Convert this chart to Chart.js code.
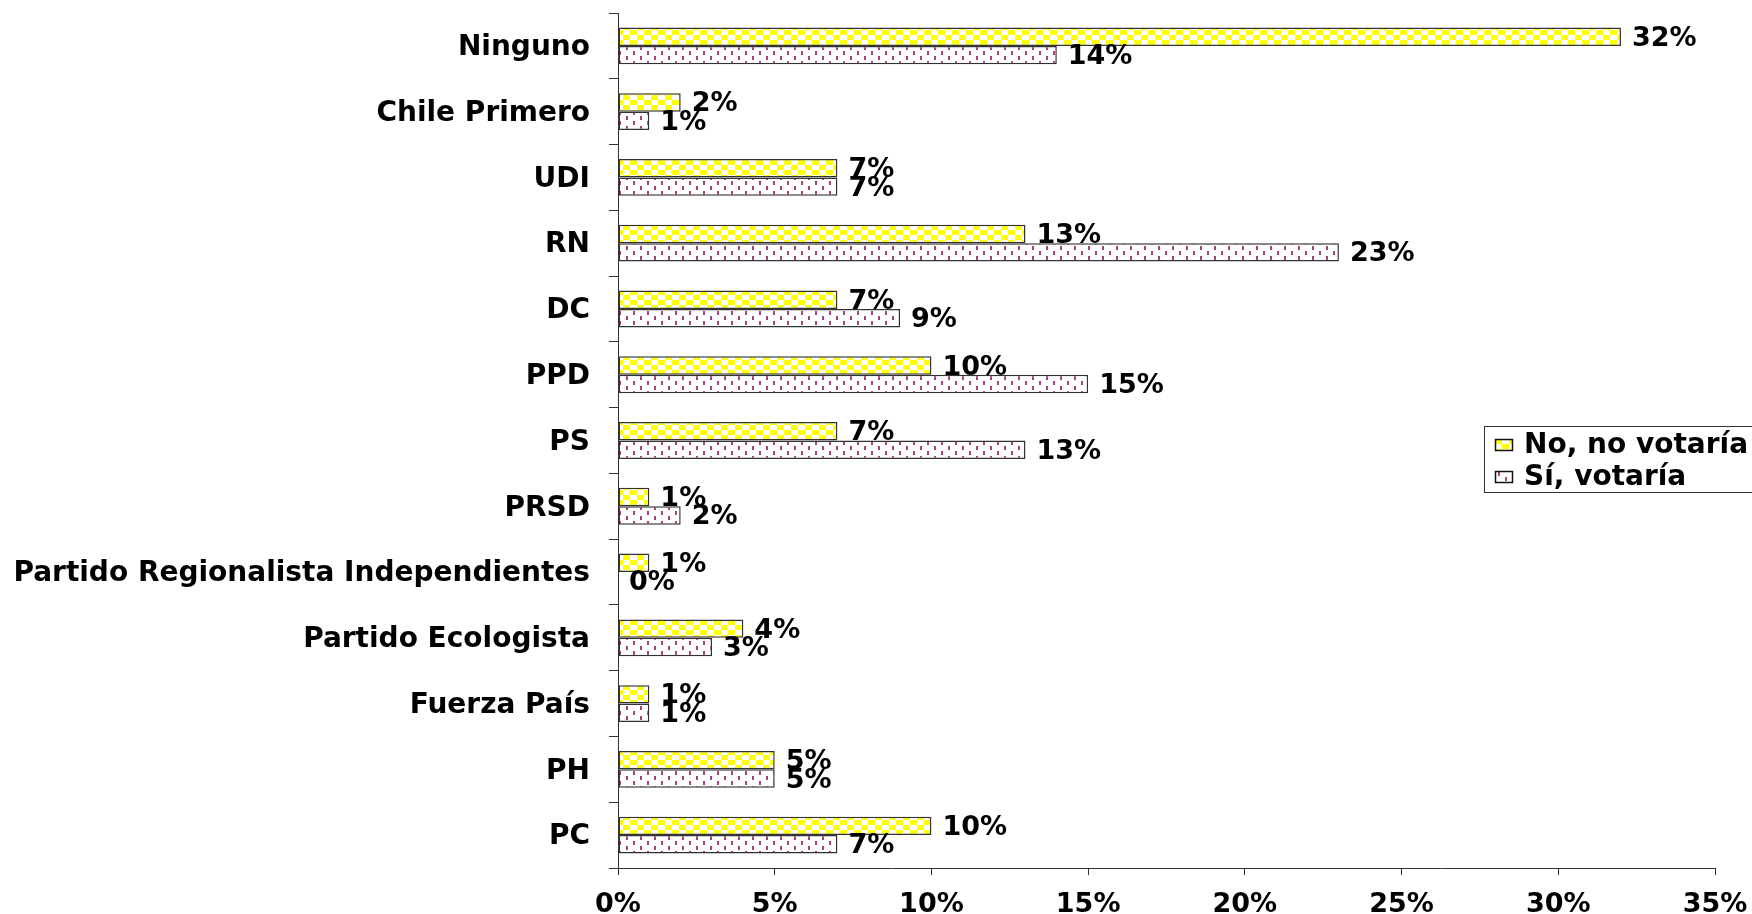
<!DOCTYPE html>
<html><head><meta charset="utf-8">
<script src="https://cdn.jsdelivr.net/npm/chart.js@4/dist/chart.umd.min.js"></script>
<style>html,body{margin:0;padding:0;background:#fff;overflow:hidden}#wrap{width:1752px;height:914px;position:relative}</style>
</head><body><div id="wrap"><canvas id="c" width="1752" height="914"></canvas></div>
<script>
const categories = ['Ninguno','Chile Primero','UDI','RN','DC','PPD','PS','PRSD','Partido Regionalista Independientes','Partido Ecologista','Fuerza País','PH','PC'];
const noVotaria = [32,2,7,13,7,10,7,1,1,4,1,5,10];
const siVotaria = [14,1,7,23,9,15,13,2,0,3,1,5,7];
const seriesNames = ['No, no votaría','Sí, votaría'];
const xTickValues = [0,5,10,15,20,25,30,35];

const FONT = 'DejaVu Sans';
const canvas = document.getElementById('c');
const ctx = canvas.getContext('2d');

function checkerPattern(cw,ch){
  const c=document.createElement('canvas'); c.width=cw*2; c.height=ch*2;
  const g=c.getContext('2d');
  g.fillStyle='#ffffff'; g.fillRect(0,0,cw*2,ch*2);
  g.fillStyle='#ffff00'; g.fillRect(0,0,cw,ch); g.fillRect(cw,ch,cw,ch);
  return ctx.createPattern(c,'repeat');
}
function dashPattern(){
  const c=document.createElement('canvas'); c.width=14; c.height=10;
  const g=c.getContext('2d');
  g.fillStyle='#ffffff'; g.fillRect(0,0,14,10);
  g.fillStyle='#a8437a';
  g.fillRect(3,1,2,4); g.fillRect(10,6,2,4);
  return ctx.createPattern(c,'repeat');
}
const yellowPat = checkerPattern(7,5);
const pinkPat = dashPattern();

const labelPlugin = {
  id:'valueLabels',
  afterDatasetsDraw(chart){
    const c=chart.ctx; c.save();
    c.font='bold 27px "'+FONT+'"'; c.fillStyle='#000'; c.textAlign='left'; c.textBaseline='middle';
    chart.data.datasets.forEach((ds,i)=>{
      const meta=chart.getDatasetMeta(i);
      meta.data.forEach((el,j)=>{ c.fillText(ds.data[j]+'%', el.x+11, el.y+2); });
    });
    c.restore();
  }
};
const legendPlugin = {
  id:'customLegend',
  afterDraw(chart){
    const c=chart.ctx; c.save();
    const bx=1484.5, by=426.5, bw=300, bh=66;
    c.fillStyle='#fff'; c.fillRect(bx,by,bw,bh);
    c.strokeStyle='#333'; c.lineWidth=1; c.strokeRect(bx,by,bw,bh);
    const pats=[checkerPattern(7,5), pinkPat];
    const ys=[445,477];
    c.font='bold 28px "'+FONT+'"'; c.textAlign='left'; c.textBaseline='middle';
    chart.data.datasets.forEach((ds,i)=>{
      c.save(); c.translate(1495,ys[i]-6);
      c.fillStyle=pats[i]; c.fillRect(0,0,18,12);
      c.strokeStyle='#111'; c.lineWidth=1.5; c.strokeRect(0.5,0.5,17,11);
      c.restore();
      c.fillStyle='#000'; c.fillText(ds.label,1524,ys[i]+1);
    });
    c.restore();
  }
};

new Chart(canvas,{
  type:'bar',
  data:{labels:categories,datasets:[
    {label:seriesNames[0],data:noVotaria,backgroundColor:yellowPat,borderColor:'#333',borderWidth:1.5,borderSkipped:false},
    {label:seriesNames[1],data:siVotaria,backgroundColor:pinkPat,borderColor:'#333',borderWidth:1.5,borderSkipped:false}
  ]},
  options:{
    indexAxis:'y',responsive:false,animation:false,devicePixelRatio:1,
    datasets:{bar:{categoryPercentage:0.56,barPercentage:1.0}},
    layout:{padding:{top:13,right:37,left:0,bottom:0}},
    plugins:{legend:{display:false},tooltip:{enabled:false}},
    scales:{
      x:{min:0,max:35,
        afterBuildTicks(s){ s.ticks = xTickValues.map(v=>({value:v})); },
        afterFit(s){ s.height=46; s.paddingLeft=0; s.paddingRight=0; },
        grid:{drawOnChartArea:false,drawTicks:true,tickLength:7,color:'#333'},
        border:{display:true,color:'#333',width:1},
        ticks:{color:'#000',padding:14,font:{family:FONT,weight:'bold',size:27},callback:v=>v+'%'}
      },
      y:{
        afterFit(s){ s.width=618; s.paddingTop=0; s.paddingBottom=0; },
        grid:{offset:true,drawOnChartArea:false,drawTicks:true,tickLength:9,color:'#333'},
        border:{display:true,color:'#333',width:1},
        ticks:{color:'#000',padding:19,labelOffset:2,font:{family:FONT,weight:'bold',size:28},autoSkip:false}
      }
    }
  },
  plugins:[labelPlugin,legendPlugin]
});
</script></body></html>
